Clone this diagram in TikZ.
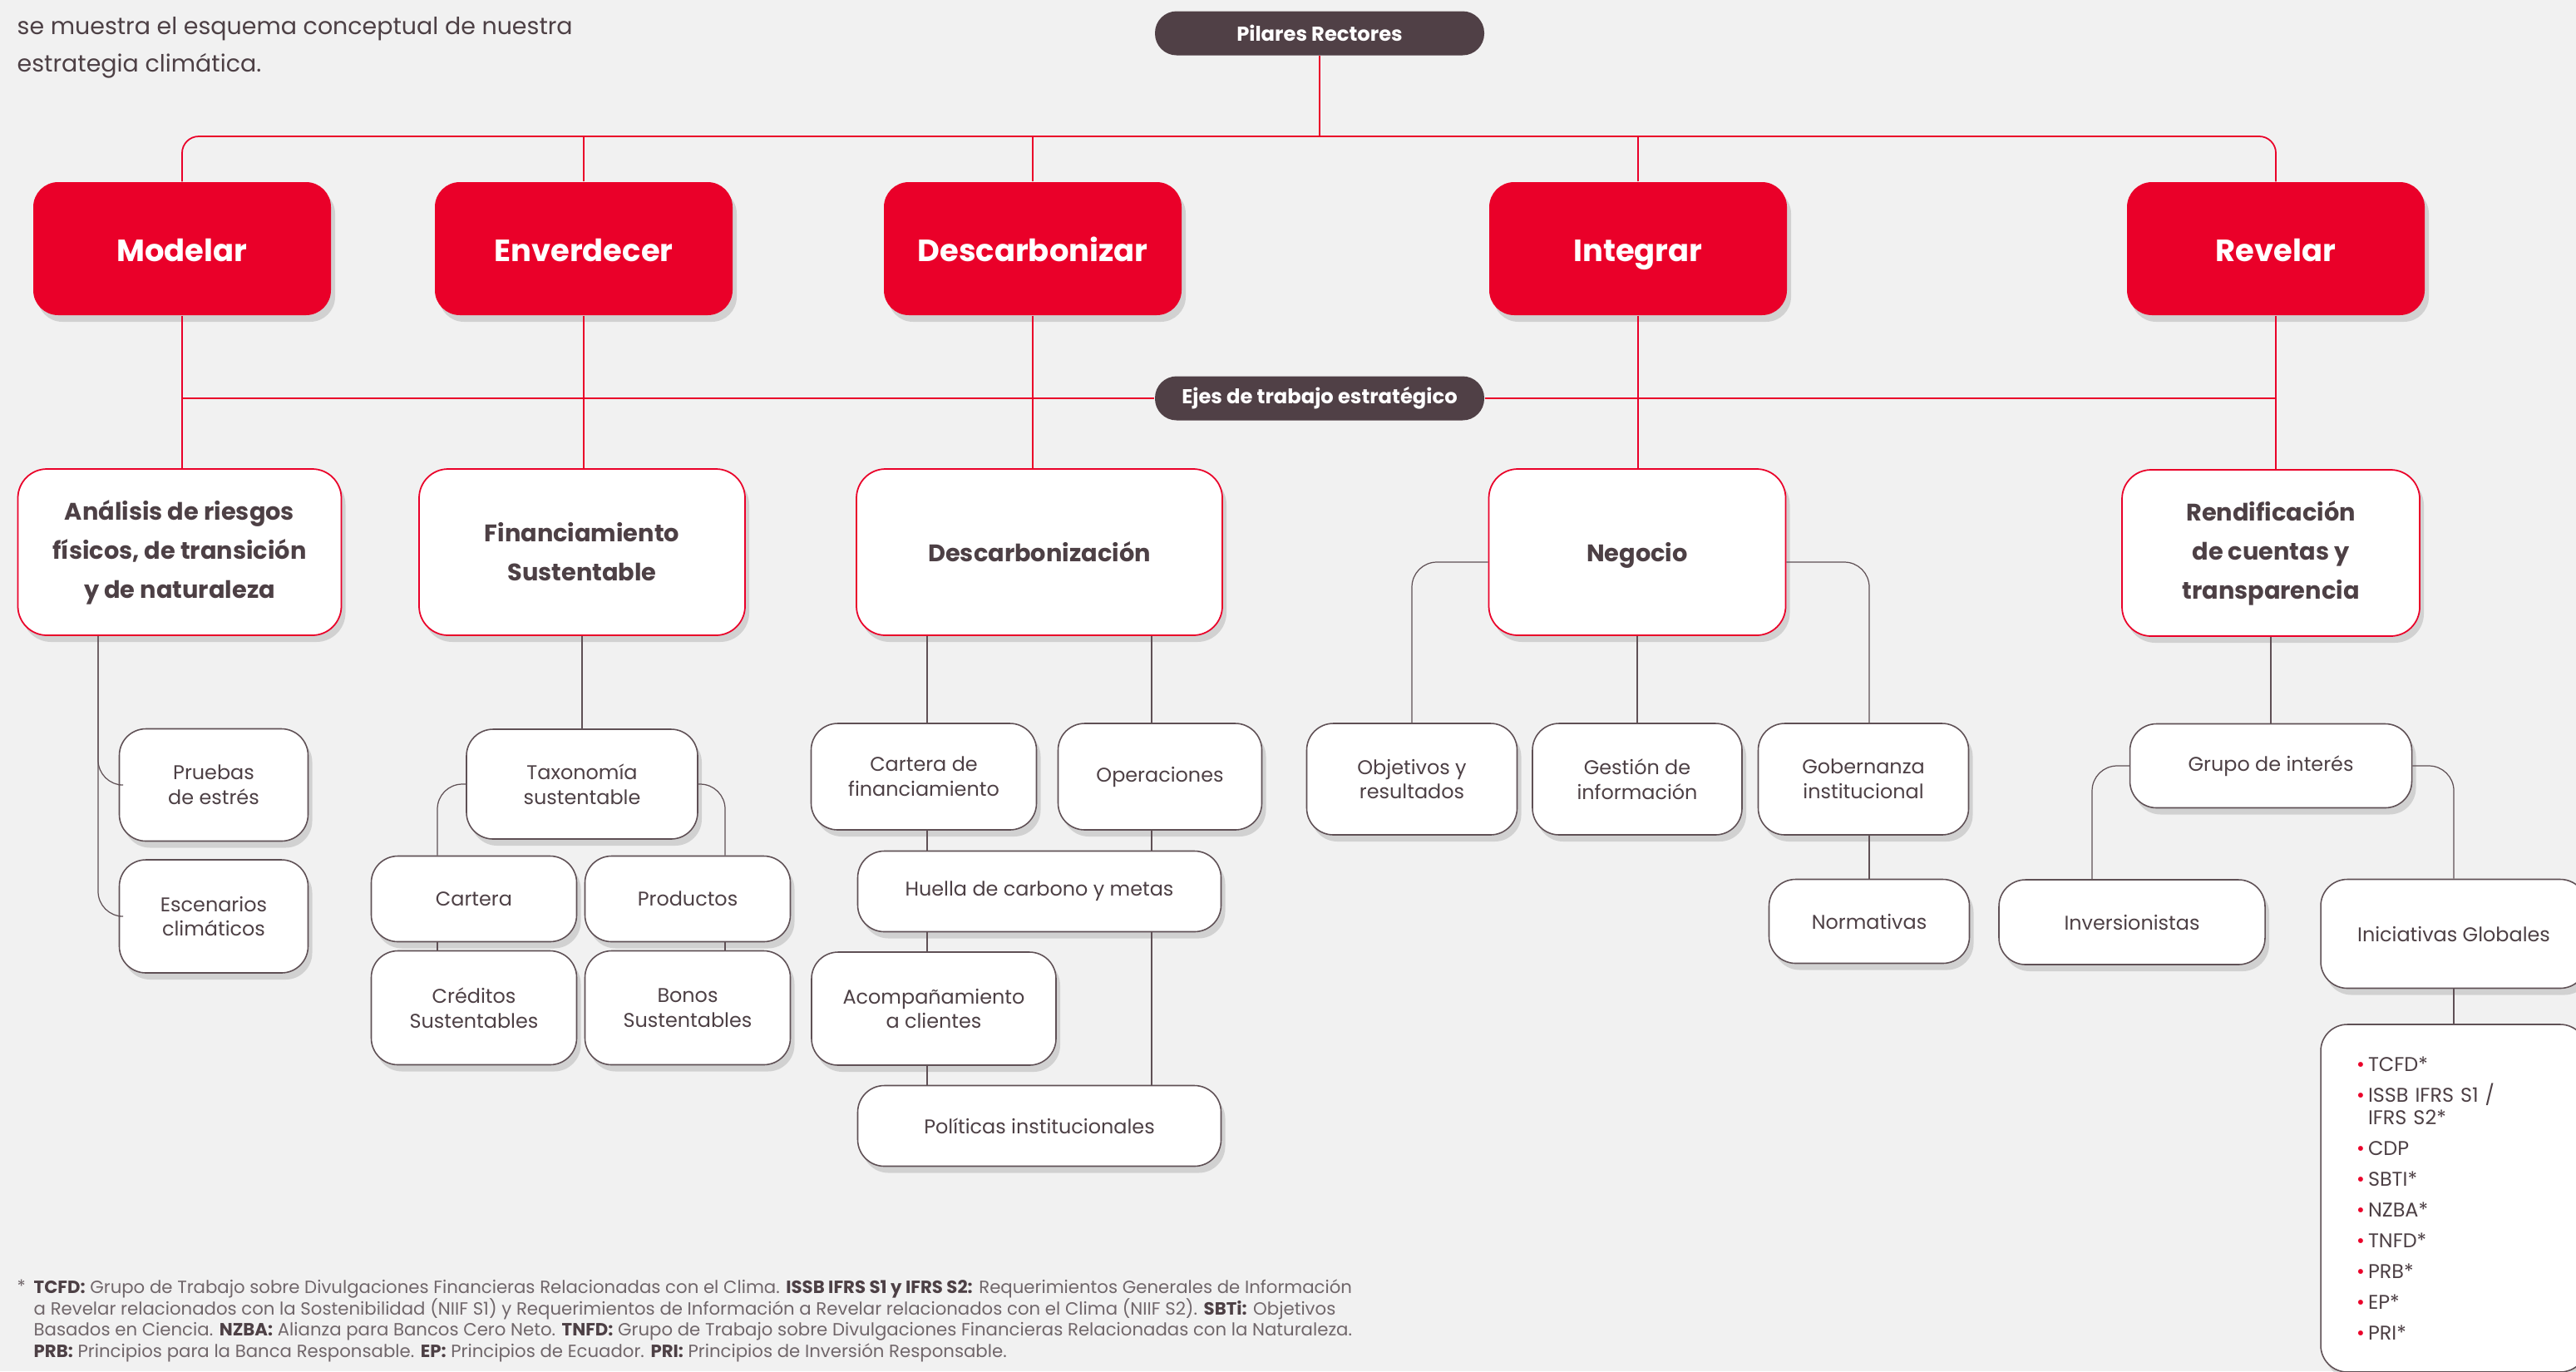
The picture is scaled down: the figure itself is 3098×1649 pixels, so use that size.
\documentclass[tikz,border=0pt]{standalone}
\usepackage{fontspec}
\setmainfont{Poppins}
\usetikzlibrary{positioning,calc,shadows}

\definecolor{rojo}{RGB}{234,0,41}
\definecolor{cafe}{RGB}{80,64,70}
\definecolor{texto}{RGB}{77,64,69}
\definecolor{linea}{RGB}{95,80,85}
\definecolor{nota}{RGB}{112,102,106}
\definecolor{fondo}{RGB}{241,241,241}

\begin{document}
\begin{tikzpicture}[
x=0.1mm, y=-0.1mm,
sombra/.style={drop shadow={shadow xshift=0.5mm, shadow yshift=-0.8mm, opacity=0.13, fill=black}},
pill/.style={fill=cafe, text=white, rounded corners=2.6mm, minimum width=3.96cm, minimum height=5.3mm, font=\fontsize{6.9}{8}\selectfont\bfseries},
pilar/.style={fill=rojo, text=white, rounded corners=3mm, minimum width=3.58cm, minimum height=1.6cm, text height=2.1ex, text depth=0.45ex, font=\fontsize{10.5}{12}\selectfont\bfseries, sombra},
eje/.style={draw=rojo, line width=0.5pt, fill=white, text=texto, rounded corners=3.5mm, minimum height=2cm, align=center, font=\fontsize{8.2}{13.4}\selectfont\bfseries, sombra},
tema/.style={draw=linea, line width=0.45pt, fill=white, text=texto, rounded corners=3.2mm, align=center, font=\fontsize{6.8}{8.5}\selectfont, sombra},
rama/.style={draw=rojo, line width=0.5pt},
hilo/.style={draw=linea, line width=0.35pt},
]
\useasboundingbox (0,0) rectangle (3098,1649);
\clip (0,0) rectangle (3098,1649);
\fill[fondo] (0,0) rectangle (3098,1649);

% intro
\node[anchor=north west, inner sep=0, align=left, text=texto, font=\fontsize{8.1}{12.8}\selectfont] (intro) at (20,20)
	{se muestra el esquema conceptual de nuestra\\estrategia climática.};

% pilares
\node[pill] (pilares) at (1587,40) {Pilares Rectores};
\node[pilar] (modelar) at (219,299) {Modelar};
\node[pilar] (enverdecer) at (702,299) {Enverdecer};
\node[pilar] (descarbonizar) at (1242,299) {Descarbonizar};
\node[pilar] (integrar) at (1970,299) {Integrar};
\node[pilar] (revelar) at (2737,299) {Revelar};

\coordinate (cruce) at (1587,164);
\draw[rama] (pilares) -- (cruce);
\draw[rama, rounded corners=2mm] (modelar.north) |- (cruce) -| (revelar.north);
\draw[rama] (enverdecer.north) -- (enverdecer.north |- cruce);
\draw[rama] (descarbonizar.north) -- (descarbonizar.north |- cruce);
\draw[rama] (integrar.north) -- (integrar.north |- cruce);

% ejes
\node[pill] (ejes) at (1587,479) {Ejes de trabajo estratégico};
\node[eje, minimum width=3.89cm] (analisis) at (216,664) {Análisis de riesgos\\físicos, de transición\\y de naturaleza};
\node[eje, minimum width=3.92cm] (financiamiento) at (700,664) {Financiamiento\\Sustentable};
\node[eje, minimum width=4.4cm] (descarbonizacion) at (1250,664) {Descarbonización};
\node[eje, minimum width=3.57cm, text height=1.6ex, text depth=0.45ex] (negocio) at (1969,664) {Negocio};
\node[eje, minimum width=3.58cm] (rendicion) at (2731,665) {Rendificación\\de cuentas y\\transparencia};

\draw[rama] (modelar.south) -- (modelar.south |- analisis.north);
\draw[rama] (enverdecer.south) -- (enverdecer.south |- financiamiento.north);
\draw[rama] (descarbonizar.south) -- (descarbonizar.south |- descarbonizacion.north);
\draw[rama] (integrar.south) -- (integrar.south |- negocio.north);
\draw[rama] (revelar.south) -- (revelar.south |- rendicion.north);
\draw[rama] (modelar.south |- ejes) -- (ejes.west);
\draw[rama] (ejes.east) -- (revelar.south |- ejes);

% modelar
\node[tema, minimum width=2.27cm, minimum height=1.35cm] (pruebas) at (257,944) {Pruebas\\de estrés};
\node[tema, minimum width=2.27cm, minimum height=1.36cm] (escenarios) at (257,1102) {Escenarios\\climáticos};
\coordinate (m1) at (118,765);
\draw[hilo, rounded corners=3mm] (m1) |- (pruebas.west);
\draw[hilo, rounded corners=3mm] (m1) |- (escenarios.west);

% enverdecer
\node[tema, minimum width=2.78cm, minimum height=1.32cm] (taxonomia) at (700,943) {Taxonomía\\sustentable};
\node[tema, minimum width=2.47cm, minimum height=1.03cm] (cartera) at (570,1081) {Cartera};
\node[tema, minimum width=2.47cm, minimum height=1.03cm] (productos) at (827,1081) {Productos};
\node[tema, minimum width=2.47cm, minimum height=1.37cm] (creditos) at (570,1212) {Créditos\\Sustentables};
\node[tema, minimum width=2.47cm, minimum height=1.37cm] (bonos) at (827,1212) {Bonos\\Sustentables};
\coordinate (e1) at (526,0);
\coordinate (e2) at (872,0);
\draw[hilo] (financiamiento.south) -- (taxonomia.north);
\draw[hilo, rounded corners=3mm] (taxonomia.west) -| (cartera.north -| e1);
\draw[hilo, rounded corners=3mm] (taxonomia.east) -| (productos.north -| e2);
\draw[hilo] (cartera.south -| e1) -- (creditos.north -| e1);
\draw[hilo] (productos.south -| e2) -- (bonos.north -| e2);

% descarbonizar
\node[tema, minimum width=2.71cm, minimum height=1.28cm] (carterafin) at (1111,934) {Cartera de\\financiamiento};
\node[tema, minimum width=2.45cm, minimum height=1.28cm] (operaciones) at (1395,934) {Operaciones};
\node[tema, minimum width=4.37cm, minimum height=0.97cm] (huella) at (1250,1072) {Huella de carbono y metas};
\node[tema, minimum width=2.94cm, minimum height=1.36cm] (acompanamiento) at (1123,1213) {Acompañamiento\\a clientes};
\node[tema, minimum width=4.37cm, minimum height=0.97cm] (politicas) at (1250,1354) {Políticas institucionales};
\coordinate (d1) at (1115,0);
\coordinate (d2) at (1385,0);
\draw[hilo] (descarbonizacion.south -| d1) -- (carterafin.north -| d1);
\draw[hilo] (carterafin.south -| d1) -- (huella.north -| d1);
\draw[hilo] (huella.south -| d1) -- (acompanamiento.north -| d1);
\draw[hilo] (acompanamiento.south -| d1) -- (politicas.north -| d1);
\draw[hilo] (descarbonizacion.south -| d2) -- (operaciones.north -| d2);
\draw[hilo] (operaciones.south -| d2) -- (huella.north -| d2);
\draw[hilo] (huella.south -| d2) -- (politicas.north -| d2);

% integrar
\node[tema, minimum width=2.53cm, minimum height=1.34cm] (objetivos) at (1698,937) {Objetivos y\\resultados};
\node[tema, minimum width=2.52cm, minimum height=1.34cm] (gestion) at (1969,937) {Gestión de\\información};
\node[tema, minimum width=2.53cm, minimum height=1.34cm] (gobernanza) at (2241,937) {Gobernanza\\institucional};
\node[tema, minimum width=2.41cm, minimum height=1.01cm] (normativas) at (2248,1108) {Normativas};
\draw[hilo] (negocio.south) -- (gestion.north);
\draw[hilo, rounded corners=3mm] ($(negocio.west)+(0,12)$) -| (objetivos.north);
\draw[hilo, rounded corners=3mm] ($(negocio.east)+(0,12)$) -| (normativas.north |- gobernanza.north);
\draw[hilo] (normativas.north |- gobernanza.south) -- (normativas.north);

% revelar
\node[tema, minimum width=3.39cm, minimum height=1.01cm] (grupo) at (2731,921) {Grupo de interés};
\node[tema, minimum width=3.2cm, minimum height=1.02cm] (inversionistas) at (2564,1109) {Inversionistas};
\node[tema, minimum width=3.2cm, minimum height=1.31cm] (iniciativas) at (2951,1123) {Iniciativas Globales};
\node[tema, minimum width=3.2cm, minimum height=4.18cm, align=left, text width=2.34cm, font=\fontsize{6.8}{7.9}\selectfont] (lista) at (2951,1441)
	{\makebox[1.4mm][l]{\textcolor{rojo}{\textbullet}}TCFD*\\[2.6pt]
	\makebox[1.4mm][l]{\textcolor{rojo}{\textbullet}}ISSB IFRS S1 /\\
	\makebox[1.4mm][l]{}IFRS S2*\\[2.6pt]
	\makebox[1.4mm][l]{\textcolor{rojo}{\textbullet}}CDP\\[2.6pt]
	\makebox[1.4mm][l]{\textcolor{rojo}{\textbullet}}SBTI*\\[2.6pt]
	\makebox[1.4mm][l]{\textcolor{rojo}{\textbullet}}NZBA*\\[2.6pt]
	\makebox[1.4mm][l]{\textcolor{rojo}{\textbullet}}TNFD*\\[2.6pt]
	\makebox[1.4mm][l]{\textcolor{rojo}{\textbullet}}PRB*\\[2.6pt]
	\makebox[1.4mm][l]{\textcolor{rojo}{\textbullet}}EP*\\[2.6pt]
	\makebox[1.4mm][l]{\textcolor{rojo}{\textbullet}}PRI*};
\draw[hilo] (rendicion.south) -- (grupo.north);
\draw[hilo, rounded corners=3mm] (grupo.west) -| ($(inversionistas.north)+(-48,0)$);
\draw[hilo, rounded corners=3mm] (grupo.east) -| (iniciativas.north);
\draw[hilo] (iniciativas.south) -- (lista.north);

% notas
\node[anchor=north west, inner sep=0, text=nota, font=\fontsize{6}{7.3}\selectfont] (ast) at (20,1538) {*};
\node[anchor=north west, inner sep=0, align=left, text=nota, font=\fontsize{6.05}{7.3}\selectfont] (notas) at (40,1538)
	{\textcolor{texto}{\bfseries TCFD:} Grupo de Trabajo sobre Divulgaciones Financieras Relacionadas con el Clima. \textcolor{texto}{\bfseries ISSB IFRS S1 y IFRS S2:} Requerimientos Generales de Información\\
	a Revelar relacionados con la Sostenibilidad (NIIF S1) y Requerimientos de Información a Revelar relacionados con el Clima (NIIF S2). \textcolor{texto}{\bfseries SBTi:} Objetivos\\
	Basados en Ciencia. \textcolor{texto}{\bfseries NZBA:} Alianza para Bancos Cero Neto. \textcolor{texto}{\bfseries TNFD:} Grupo de Trabajo sobre Divulgaciones Financieras Relacionadas con la Naturaleza.\\
	\textcolor{texto}{\bfseries PRB:} Principios para la Banca Responsable. \textcolor{texto}{\bfseries EP:} Principios de Ecuador. \textcolor{texto}{\bfseries PRI:} Principios de Inversión Responsable.};
\end{tikzpicture}
\end{document}
